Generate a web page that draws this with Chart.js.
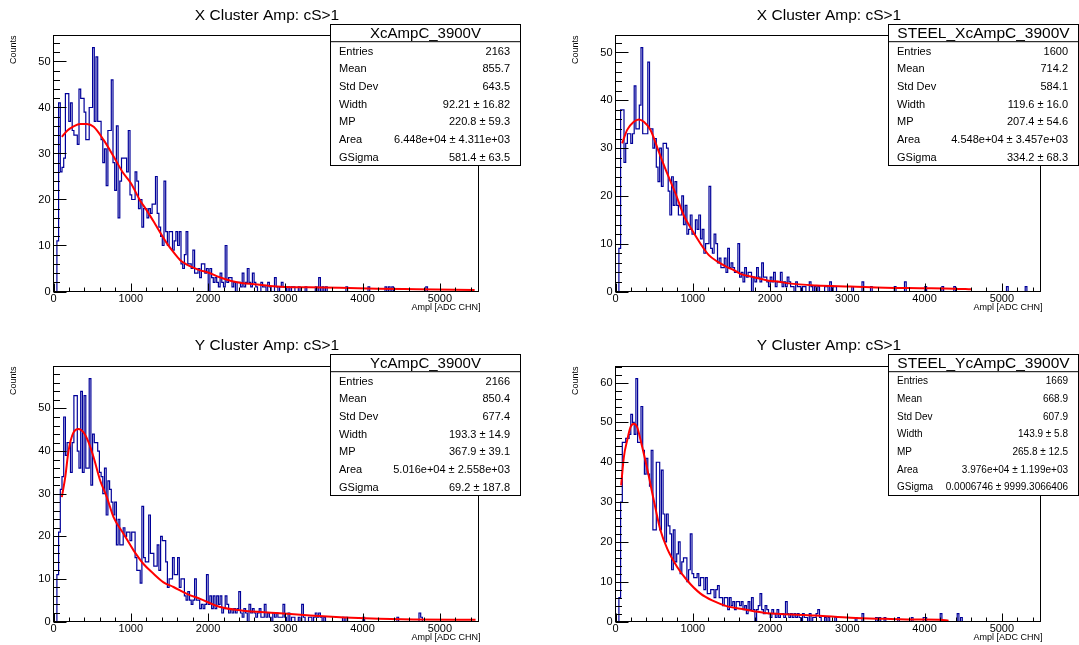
<!DOCTYPE html>
<html><head><meta charset="utf-8">
<script src="https://cdn.jsdelivr.net/npm/chart.js@4.4.1/dist/chart.umd.min.js"></script>
<style>
html,body{margin:0;padding:0;background:#fff;}
#wrap{position:relative;width:1079px;height:645px;overflow:hidden;background:#fff;}
#wrap canvas{position:absolute;left:0;top:0;}
</style></head><body>
<div id="wrap">
<canvas id="c0" width="1079" height="645"></canvas>
<canvas id="c1" width="1079" height="645"></canvas>
<canvas id="c2" width="1079" height="645"></canvas>
<canvas id="c3" width="1079" height="645"></canvas>
</div>
<script>
// ---------------- data ----------------
const BIN_WIDTH = 22;          // ADC channels per bin
const X_MAX = 5500;
const xTickValues = [0, 1000, 2000, 3000, 4000, 5000];
const yTickValuesXc = [0, 10, 20, 30, 40, 50];
const yTickValuesSteelXc = [0, 10, 20, 30, 40, 50];
const yTickValuesYc = [0, 10, 20, 30, 40, 50];
const yTickValuesSteelYc = [0, 10, 20, 30, 40, 50, 60];

const countsXcAmpC = [
 0,0,11,41,26,27,29,43,43,37, 41,35,34,34,32,44,42,42,39,33,
 33,40,40,53,37,51,37,37,33,28, 31,23,35,35,46,28,22,36,16,24,
 29,29,29,26,35,21,20,20,26,24, 18,20,14,18,18,16,18,17,19,19,
 25,17,14,12,10,24,13,10,13,13, 9,11,13,10,13,6,5,8,13,6,
 6,5,9,4,4,5,3,6,6,4, 5,0,5,3,2,3,2,1,4,2,
 1,10,2,3,3,1,2,0,2,2, 1,4,1,2,5,2,1,4,2,1,
 0,0,2,1,1,0,2,1,0,0, 3,1,0,1,2,1,1,0,1,0,
 1,1,0,0,1,0,0,0,1,0, 0,0,0,0,1,0,3,0,1,0,
 1,0,0,0,0,0,0,0,0,0, 0,0,1,0,0,0,0,0,0,0,
 0,0,0,0,0,1,0,0,0,0, 0,0,0,0,0,1,0,1,0,1,
 0,0,0,0,0,0,0,0,0,0, 0,0,0,0,0,0,0,0,0,1
];
const countsSteelXcAmpC = [
 0,0,9,38,38,27,31,33,33,31, 33,43,34,34,39,51,33,33,33,48,
 34,34,30,32,26,23,30,22,31,31, 30,21,16,24,18,23,18,16,16,20,
 14,18,12,13,16,12,12,15,13,16, 11,13,8,10,10,22,9,8,12,10,
 6,7,5,5,7,4,9,5,6,5, 4,4,10,3,4,2,5,3,4,4,
 0,3,2,5,3,2,6,3,3,2, 1,3,2,4,1,2,2,4,1,2,
 1,3,2,1,1,0,2,1,1,0, 1,1,0,0,2,1,0,1,0,1,
 0,0,0,1,1,0,2,0,1,1, 0,0,0,0,0,0,0,0,0,1,
 0,0,0,0,0,2,0,0,0,0, 1,0,0,0,0,0,0,0,0,0,
 0,0,0,0,1,0,0,0,0,0, 2,0,0,0,0,0,0,0,0,0,
 0,0,1,0,0,0,0,0,0,0, 0,0,1,0,0,0,0,0,0,1,
 0,0,0,0,0,0,0,0,0,0, 0,0,0,0,0,0,0,0,0,0,
 0,0,0,0,0,0,0,0,0,0, 1,0,0,0,0,0,0,0,0,0,
 0,1
];
const countsYcAmpC = [
 0,0,11,21,31,34,48,39,42,42, 35,42,53,53,40,36,54,35,53,36,
 36,57,32,44,42,42,40,35,34,30, 36,25,33,31,28,25,28,18,24,18,
 18,22,20,21,21,19,21,21,15,12, 12,9,27,15,14,14,25,16,16,13,
 13,18,12,20,19,19,14,8,10,10, 15,11,11,15,8,10,10,6,5,7,
 5,4,5,10,5,5,3,4,3,4, 11,4,6,3,6,3,6,4,6,2,
 3,6,4,2,3,2,3,2,3,7, 2,1,3,2,0,4,2,3,2,1,
 2,3,1,1,4,1,2,1,0,2, 1,2,1,1,1,4,1,0,2,0,
 1,1,0,0,1,0,4,1,0,0, 1,1,0,1,2,1,2,1,0,1,
 0,0,0,0,0,0,0,0,0,0, 1,0,1,0,0,0,0,0,0,0,
 0,0,1,0,0,0,0,0,0,0, 0,0,0,0,0,0,0,0,0,0,
 0,0,1,0,0,0,0,0,0,0, 0,0,0,0,0,2,1
];
const countsSteelYcAmpC = [
 0,0,6,30,45,45,46,46,47,52, 50,47,61,45,45,54,43,37,41,37,
 34,43,23,23,40,40,23,38,27,20, 27,24,22,13,23,15,17,20,12,15,
 16,16,10,13,22,12,11,11,12,9, 11,11,8,11,7,7,8,8,6,8,
 9,6,6,4,6,6,3,6,4,5, 3,5,5,4,5,3,4,2,5,3,
 6,3,0,3,4,7,3,2,4,3, 2,1,3,2,1,3,1,2,2,1,
 5,2,1,2,1,2,1,2,1,0, 2,1,1,0,2,0,1,1,2,3,
 1,0,0,1,0,1,0,0,0,1, 0,0,0,0,0,0,0,0,0,0,
 0,1,0,0,0,2,0,0,0,0, 0,0,0,1,0,1,0,0,1,0,
 0,0,0,0,0,0,1,0,0,0, 0,0,0,0,1,0,0,0,0,0,
 0,1,1,0,0,0,0,0,0,0, 0,2,0,0,0,0,0,0,0,0,
 0,2,0,1
];

// fitted Landau (x) Gauss curves
const fitXcAmpC_x = [108,180,260,350,430,520,650,780,900,1000,1120,1200,1300,1400,1470,1550,1640,1720,1810,1900,1990,2150,2300,2450,2600,2800,3000,3300,3700,4200,4700,5200,5450];
const fitXcAmpC_y = [33.6,35.0,35.9,36.4,36.4,35.8,32.9,29.3,25.8,23.6,19.8,17.8,15.1,12.3,10.4,8.6,6.8,5.9,5.2,4.6,4.2,3.1,2.3,1.8,1.6,1.2,1.0,0.9,0.8,0.6,0.5,0.4,0.35];
const fitSteelXcAmpC_x = [86,151,237,302,367,453,561,669,777,884,992,1100,1208,1316,1445,1530,1618,1790,1963,2135,2240,2600,3040,3490,3935,4380,4600];
const fitSteelXcAmpC_y = [31.0,33.8,35.5,36.0,35.5,33.8,29.2,24.7,20.5,15.9,12.8,10.0,7.6,6.3,5.1,4.5,3.7,3.0,2.3,2.0,1.7,1.26,1.05,0.8,0.7,0.6,0.45];
const fitYcAmpC_x = [108,152,195,259,324,389,453,518,604,690,777,906,1036,1165,1295,1424,1553,1726,1898,2157,2431,2877,3323,3769,4214,4660,5462];
const fitYcAmpC_y = [29.2,33.9,40.1,44.4,45.2,44.4,42.1,38.6,33.1,29.2,24.5,20.6,16.7,13.5,11.2,9.2,8.1,6.5,5.3,3.4,2.6,2.0,1.4,0.94,0.63,0.47,0.4];
const fitSteelYcAmpC_x = [73,108,151,194,237,280,324,410,496,582,669,798,928,1100,1273,1445,1618,1790,1963,2135,2596,3042,3488,3934,4200,4310];
const fitSteelYcAmpC_y = [34.2,41.3,45.5,48.8,49.7,48.8,45.6,38.4,30.4,22.9,18.3,13.7,10.3,7.0,5.1,3.8,3.2,2.6,2.1,1.9,1.5,0.92,0.67,0.5,0.45,0.2];

const statLabels = ['Entries', 'Mean', 'Std Dev', 'Width', 'MP', 'Area', 'GSigma'];
const statsXcAmpC = ['2163', '855.7', '643.5', '92.21 \u00b1 16.82', '220.8 \u00b1 59.3', '6.448e+04 \u00b1 4.311e+03', '581.4 \u00b1 63.5'];
const statsSteelXcAmpC = ['1600', '714.2', '584.1', '119.6 \u00b1 16.0', '207.4 \u00b1 54.6', '4.548e+04 \u00b1 3.457e+03', '334.2 \u00b1 68.3'];
const statsYcAmpC = ['2166', '850.4', '677.4', '193.3 \u00b1 14.9', '367.9 \u00b1 39.1', '5.016e+04 \u00b1 2.558e+03', '69.2 \u00b1 187.8'];
const statsSteelYcAmpC = ['1669', '668.9', '607.9', '143.9 \u00b1 5.8', '265.8 \u00b1 12.5', '3.976e+04 \u00b1 1.199e+03', '0.0006746 \u00b1 9999.3066406'];

const panelTitles = ['X Cluster Amp: cS>1', 'X Cluster Amp: cS>1', 'Y Cluster Amp: cS>1', 'Y Cluster Amp: cS>1'];
const statsNames = ['XcAmpC_3900V', 'STEEL_XcAmpC_3900V', 'YcAmpC_3900V', 'STEEL_YcAmpC_3900V'];
const xAxisTitle = 'Ampl [ADC CHN]';
const yAxisTitle = 'Counts';

// ---------------- drawing ----------------
const FONT = '"Liberation Sans", Arial, Helvetica, sans-serif';
const W = 1079, H = 645;
const YW = 40, XH = 22;

function histPoints(counts) {
  const pts = [{x: 0, y: counts[0]}];
  for (let i = 1; i < counts.length; i++) pts.push({x: i * BIN_WIDTH, y: counts[i]});
  pts.push({x: counts.length * BIN_WIDTH, y: 0});
  pts.push({x: X_MAX, y: 0});
  return pts;
}
function fitPoints(xs, ys) { return xs.map((x, i) => ({x: x, y: ys[i]})); }

function makePanel(p) {
  const yMax = 1.05 * Math.max(...p.counts);
  const deco = {
    id: 'deco' + p.id,
    afterDraw(chart) {
      const ctx = chart.ctx, xs = chart.scales.x, ys = chart.scales.y, a = chart.chartArea;
      ctx.save();
      ctx.strokeStyle = '#000'; ctx.lineWidth = 1;
      ctx.strokeRect(a.left, a.top, a.right - a.left, a.bottom - a.top);
      ctx.beginPath();
      for (let v = 0; v <= yMax + 1e-9; v += 2) {
        const y = Math.round(ys.getPixelForValue(v)) + 0.5;
        const len = (Math.abs(v % 10) < 1e-9) ? 13 : 6.5;
        ctx.moveTo(a.left, y); ctx.lineTo(a.left + len, y);
      }
      for (let v = 0; v <= X_MAX - 1; v += 200) {
        const x = Math.round(xs.getPixelForValue(v)) + 0.5;
        const len = (v % 1000 === 0) ? 8 : 4;
        ctx.moveTo(x, a.bottom); ctx.lineTo(x, a.bottom - len);
      }
      ctx.stroke();
      ctx.fillStyle = '#000';
      ctx.font = '15.5px ' + FONT;
      ctx.textAlign = 'center'; ctx.textBaseline = 'middle';
      ctx.fillText(p.title, p.titleX, p.titleY);
      ctx.font = '9px ' + FONT;
      ctx.textAlign = 'right';
      ctx.fillText(xAxisTitle, a.right + 2, a.bottom + 16);
      ctx.save();
      ctx.translate(p.ox + 14, a.top);
      ctx.rotate(-Math.PI / 2);
      ctx.textAlign = 'right'; ctx.textBaseline = 'middle';
      ctx.fillText(yAxisTitle, 0, 0);
      ctx.restore();
      const bx = p.box.x, by = p.box.y, bw = p.box.w, bh = p.box.h, sep = p.box.sep;
      ctx.fillStyle = '#fff';
      ctx.fillRect(bx, by, bw, bh);
      ctx.strokeStyle = '#000';
      ctx.strokeRect(bx, by, bw, bh);
      ctx.beginPath(); ctx.moveTo(bx, by + sep); ctx.lineTo(bx + bw, by + sep); ctx.stroke();
      ctx.fillStyle = '#000';
      ctx.font = p.nameFont + 'px ' + FONT;
      ctx.textAlign = 'center'; ctx.textBaseline = 'middle';
      ctx.fillText(p.name, bx + bw / 2, by + sep / 2 + 0.5);
      ctx.font = p.statFont + 'px ' + FONT;
      const rowH = (bh - sep) / statLabels.length;
      for (let i = 0; i < statLabels.length; i++) {
        const y = by + sep + rowH * (i + 0.5) + 1;
        ctx.textAlign = 'left';
        ctx.fillText(statLabels[i], bx + 8.5, y);
        ctx.textAlign = 'right';
        ctx.fillText(p.stats[i], p.valRight, y);
      }
      ctx.restore();
    }
  };
  const tickFont = {family: FONT, size: 11};
  return new Chart(document.getElementById(p.id), {
    type: 'line',
    data: {datasets: [
      {data: fitPoints(p.fitX, p.fitY), borderColor: '#ff0000', borderWidth: 2, pointRadius: 0,
       cubicInterpolationMode: 'monotone', fill: false, order: 0},
      {data: histPoints(p.counts), borderColor: '#000099', borderWidth: 1.2, pointRadius: 0,
       stepped: 'before', fill: false, order: 1}
    ]},
    options: {
      responsive: false, animation: false, events: [],
      layout: {padding: {left: p.fl - YW, top: p.ft, right: W - p.fr, bottom: H - p.fb - XH}},
      scales: {
        x: {type: 'linear', min: 0, max: X_MAX,
            afterFit(s) { s.height = XH; },
            afterBuildTicks(s) { s.ticks = xTickValues.map(v => ({value: v})); },
            grid: {display: false, drawTicks: false, tickLength: 0}, border: {display: false},
            ticks: {font: tickFont, color: '#000', padding: 1, maxRotation: 0, autoSkip: false, callback: v => String(v)}},
        y: {type: 'linear', min: 0, max: yMax,
            afterFit(s) { s.width = YW; },
            afterBuildTicks(s) { s.ticks = p.yTicks.map(v => ({value: v})); },
            grid: {display: false, drawTicks: false, tickLength: 0}, border: {display: false},
            ticks: {font: tickFont, color: '#000', padding: 3, autoSkip: false, callback: v => String(v)}}
      },
      plugins: {legend: {display: false}, tooltip: {enabled: false}, title: {display: false}}
    },
    plugins: [deco]
  });
}

const DX = 562, DY = 330.3;
makePanel({id: 'c0', ox: 0, fl: 53.5, fr: 478.5, ft: 35.5, fb: 291.5,
  counts: countsXcAmpC, fitX: fitXcAmpC_x, fitY: fitXcAmpC_y, yTicks: yTickValuesXc,
  title: panelTitles[0], titleX: 267, titleY: 15.5, name: statsNames[0], nameFont: 15, statFont: 11,
  stats: statsXcAmpC, box: {x: 330.5, y: 24.5, w: 190, h: 141, sep: 17.2}, valRight: 510});
makePanel({id: 'c1', ox: DX, fl: 53.5 + DX, fr: 478.5 + DX, ft: 35.5, fb: 291.5,
  counts: countsSteelXcAmpC, fitX: fitSteelXcAmpC_x, fitY: fitSteelXcAmpC_y, yTicks: yTickValuesSteelXc,
  title: panelTitles[1], titleX: 267 + DX, titleY: 15.5, name: statsNames[1], nameFont: 15.5, statFont: 11,
  stats: statsSteelXcAmpC, box: {x: 888.5, y: 24.5, w: 190, h: 141, sep: 17.2}, valRight: 1068});
makePanel({id: 'c2', ox: 0, fl: 53.5, fr: 478.5, ft: 366.5, fb: 621.5,
  counts: countsYcAmpC, fitX: fitYcAmpC_x, fitY: fitYcAmpC_y, yTicks: yTickValuesYc,
  title: panelTitles[2], titleX: 267, titleY: 15.5 + DY, name: statsNames[2], nameFont: 15, statFont: 11,
  stats: statsYcAmpC, box: {x: 330.5, y: 354.5, w: 190, h: 141, sep: 17.2}, valRight: 510});
makePanel({id: 'c3', ox: DX, fl: 53.5 + DX, fr: 478.5 + DX, ft: 366.5, fb: 621.5,
  counts: countsSteelYcAmpC, fitX: fitSteelYcAmpC_x, fitY: fitSteelYcAmpC_y, yTicks: yTickValuesSteelYc,
  title: panelTitles[3], titleX: 267 + DX, titleY: 15.5 + DY, name: statsNames[3], nameFont: 15.5, statFont: 10,
  stats: statsSteelYcAmpC, box: {x: 888.5, y: 354.5, w: 190, h: 141, sep: 17.2}, valRight: 1068});
</script>
</body></html>
